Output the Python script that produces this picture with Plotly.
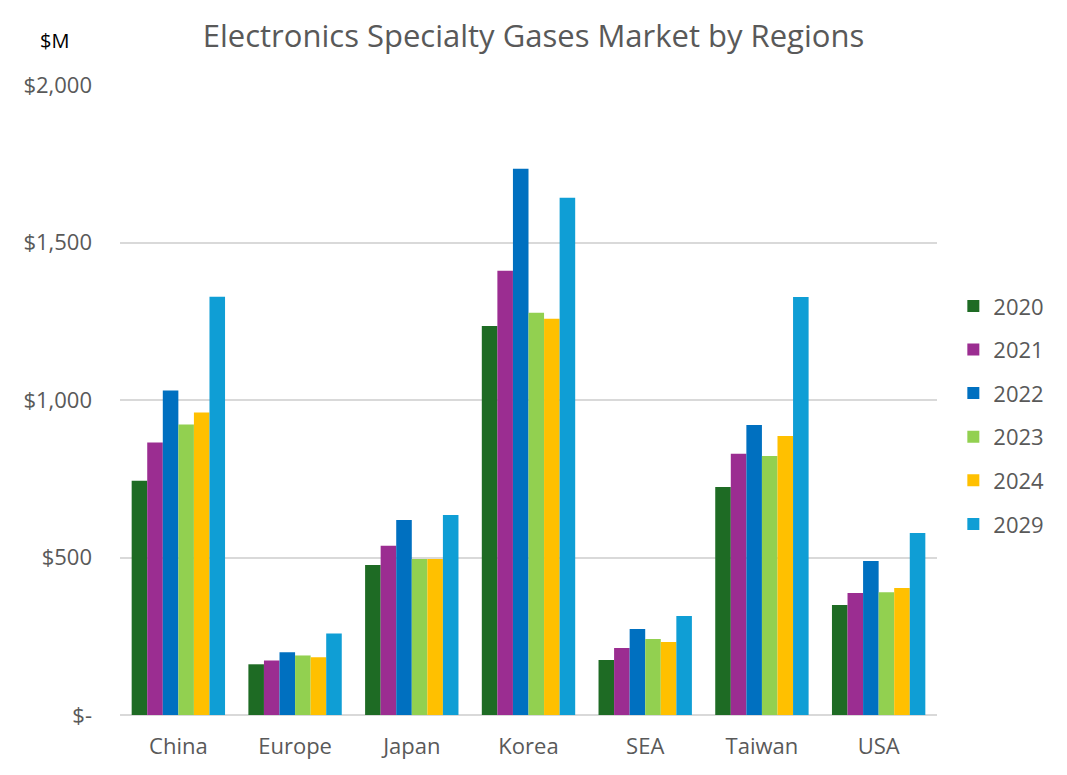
import plotly.graph_objects as go

regions = ["China", "Europe", "Japan", "Korea", "SEA", "Taiwan", "USA"]
years = ["2020", "2021", "2022", "2023", "2024", "2029"]
v2020 = [744, 161, 476, 1235, 175, 724, 349]
v2021 = [865, 173, 537, 1410, 213, 829, 387]
v2022 = [1030, 199, 619, 1734, 273, 921, 489]
v2023 = [922, 189, 495, 1277, 241, 822, 390]
v2024 = [960, 183, 495, 1258, 232, 886, 403]
v2029 = [1328, 259, 635, 1642, 314, 1327, 578]
series = [v2020, v2021, v2022, v2023, v2024, v2029]
colors = ["#1E6B24", "#9B2D91", "#0070C0", "#92D050", "#FFC000", "#0F9ED5"]
tick_vals = [0, 500, 1000, 1500, 2000]
tick_text = ["$-", "$500", "$1,000", "$1,500", "$2,000"]

font = "Open Sans, Liberation Sans, sans-serif"
fig = go.Figure()
for i, (y, vals) in enumerate(zip(years, series)):
    fig.add_trace(go.Bar(x=regions, y=vals, name=y, marker_color=colors[i],
                         marker_line_width=0, legendgroup=y))

fig.update_layout(
    width=1067, height=775,
    margin=dict(l=120, r=130, t=85, b=60),
    paper_bgcolor="white", plot_bgcolor="white",
    barmode="group", bargap=0.2, bargroupgap=0,
    font=dict(family=font, color="#595959", size=22),
    title=dict(text="Electronics Specialty Gases Market by Regions",
               x=0.5, xanchor="center", y=0.953, yanchor="middle",
               font=dict(size=31, color="#595959")),
    legend=dict(x=1.02, xanchor="left", y=0.476, yanchor="middle",
                font=dict(size=22, color="#595959"), tracegroupgap=12,
                itemwidth=30),
    showlegend=True,
)
fig.update_yaxes(range=[0, 2000], tickvals=tick_vals, ticktext=tick_text,
                 showgrid=True, gridcolor="#D9D9D9", gridwidth=1.5,
                 zeroline=True, zerolinecolor="#D9D9D9", zerolinewidth=2,
                 ticklabelstandoff=27, tickfont=dict(size=22, color="#595959"))
fig.update_xaxes(showline=False, ticks="", tickfont=dict(size=22, color="#595959"),
                 ticklabelstandoff=16)
fig.add_annotation(text="$M", xref="paper", yref="paper", x=-0.0796, y=1.071,
                   xanchor="center", yanchor="middle", showarrow=False,
                   font=dict(size=20, color="#000000"))
fig.write_html("out.html")
